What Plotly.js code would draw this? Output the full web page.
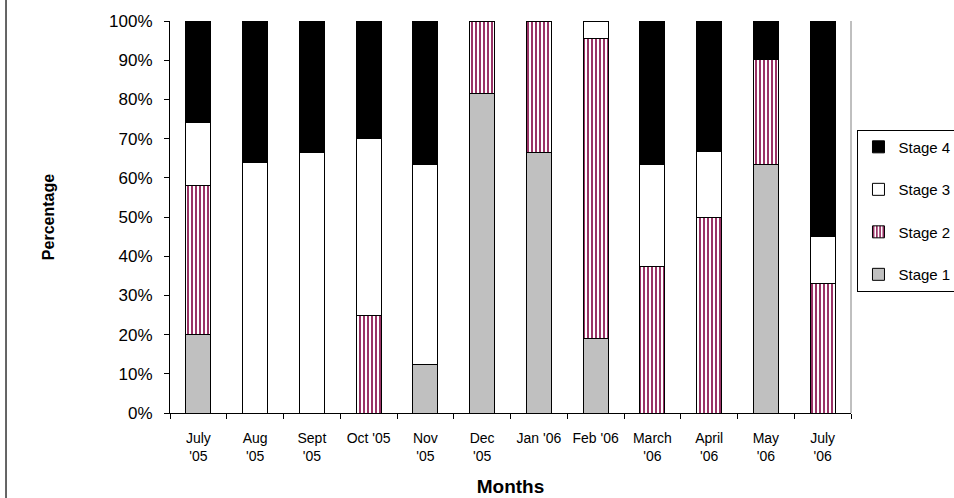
<!DOCTYPE html>
<html>
<head>
<meta charset="utf-8">
<script src="https://cdn.plot.ly/plotly-3.0.1.min.js"></script>
<style>
  html, body { margin: 0; padding: 0; background: #ffffff; }
  #chart { width: 954px; height: 498px; }
</style>
</head>
<body>
<div id="chart"></div>
<script>
// Category labels (months)
const months = ["July<br>'05", "Aug<br>'05", "Sept<br>'05", "Oct '05", "Nov<br>'05", "Dec<br>'05",
                "Jan '06", "Feb '06", "March<br>'06", "April<br>'06", "May<br>'06", "July<br>'06"];

// Percentage of each stage per month
const stage1 = [20, 0, 0, 0, 12.5, 81.5, 66.4, 19, 0, 0, 63.5, 0];
const stage2 = [38, 0, 0, 25, 0, 18.5, 33.6, 76.5, 37.3, 50, 26.8, 33];
const stage3 = [16, 64, 66.5, 45, 51, 0, 0, 4.5, 26.2, 16.7, 0, 12];
const stage4 = [26, 36, 33.5, 30, 36.5, 0, 0, 0, 36.5, 33.3, 9.7, 55];

const yTicks = [0, 10, 20, 30, 40, 50, 60, 70, 80, 90, 100];

const FONT = "Liberation Sans, Arial, sans-serif";
const outline = { color: "#000000", width: 1 };

const traces = [
  { name: "Stage 1", y: stage1, legendrank: 4, legendgroup: "s1",
    marker: { color: "#c0c0c0", line: outline } },
  { name: "Stage 2", y: stage2, legendrank: 3, legendgroup: "s2",
    marker: { color: "#ffffff", line: outline,
      pattern: { shape: "|", fgcolor: "#993366", bgcolor: "#ffffff", size: 4, solidity: 0.5 } } },
  { name: "Stage 3", y: stage3, legendrank: 2, legendgroup: "s3",
    marker: { color: "#ffffff", line: outline } },
  { name: "Stage 4", y: stage4, legendrank: 1, legendgroup: "s4",
    marker: { color: "#000000", line: outline } }
].map(t => Object.assign({ type: "bar", x: months, hoverinfo: "skip" }, t));

const layout = {
  width: 954, height: 498,
  margin: { l: 170, r: 103, t: 21, b: 85, autoexpand: false },
  paper_bgcolor: "#ffffff", plot_bgcolor: "#ffffff",
  font: { family: FONT, color: "#000000" },
  barmode: "stack",
  bargap: 0.56,
  showlegend: true,
  legend: {
    x: 1.0095, xanchor: "left", y: 0.723, yanchor: "top",
    traceorder: "grouped", tracegroupgap: 20,
    bgcolor: "#ffffff", bordercolor: "#000000", borderwidth: 1,
    font: { family: FONT, size: 15, color: "#000000" }
  },
  xaxis: {
    type: "category",
    showline: true, linecolor: "#000000", linewidth: 1,
    ticks: "outside", tickson: "boundaries", ticklen: 5, tickcolor: "#000000",
    tickfont: { family: FONT, size: 14, color: "#000000" },
    tickangle: 0,
    ticklabelstandoff: 12,
    showgrid: false, zeroline: false,
    automargin: false,
    title: { text: "<b>Months</b>", font: { family: FONT, size: 19, color: "#000000" }, standoff: 16 }
  },
  yaxis: {
    range: [0, 100],
    tickvals: yTicks, ticktext: yTicks.map(v => v + "%"),
    showline: true, linecolor: "#000000", linewidth: 1,
    ticks: "outside", ticklen: 5, tickcolor: "#000000",
    tickfont: { family: FONT, size: 17, color: "#000000" },
    ticklabelstandoff: 8,
    showgrid: false, zeroline: false,
    title: { text: "<b>Percentage</b>", font: { family: FONT, size: 16, color: "#000000" }, standoff: 50 },
    automargin: false
  },
  shapes: [
    { type: "line", xref: "paper", yref: "paper", x0: 1, x1: 1, y0: 0, y1: 1,
      line: { color: "#808080", width: 1 } },
    { type: "line", xref: "paper", yref: "paper", x0: -0.2408, x1: -0.2408, y0: -0.22, y1: 1.06,
      line: { color: "#333333", width: 1.5 } }
  ]
};

Plotly.newPlot("chart", traces, layout, { displayModeBar: false, staticPlot: true });
</script>
</body>
</html>
